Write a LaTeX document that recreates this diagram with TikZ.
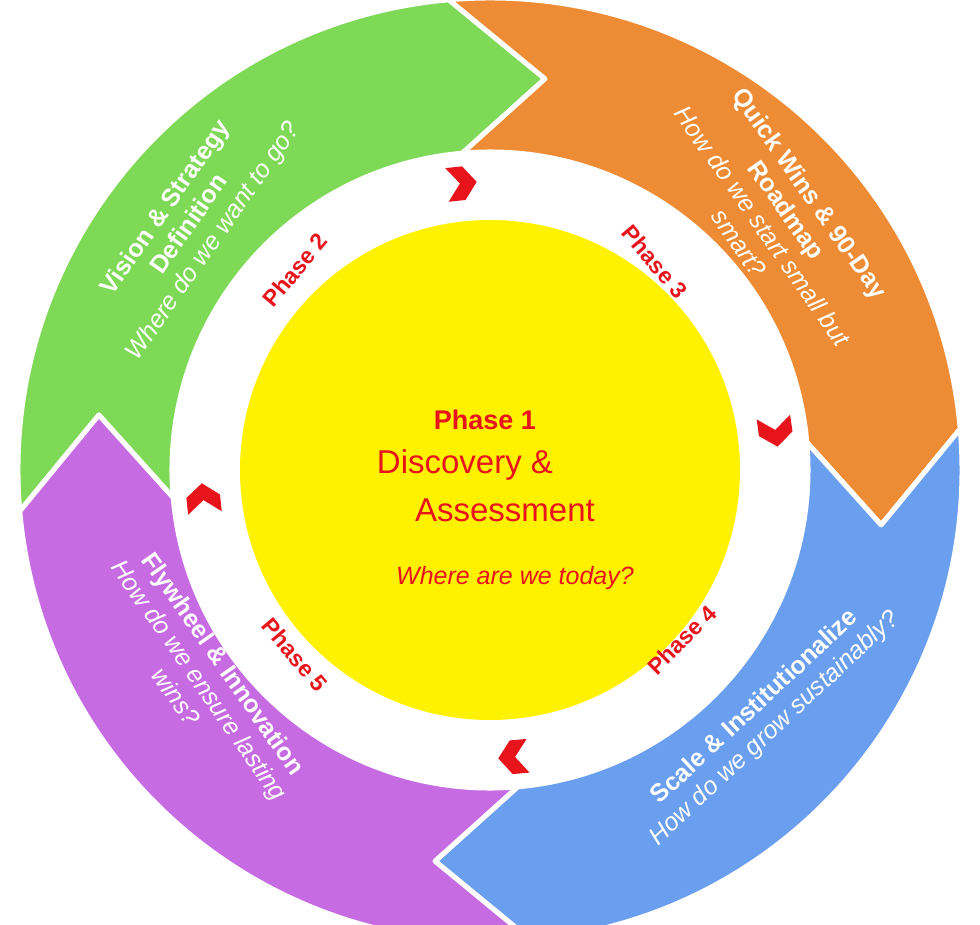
\documentclass[tikz,border=0pt]{standalone}
\usepackage{fontspec}
\setmainfont{Liberation Sans}
\definecolor{segGreen}{HTML}{7ED957}
\definecolor{segOrange}{HTML}{EE8C35}
\definecolor{segBlue}{HTML}{6A9EEE}
\definecolor{segPurple}{HTML}{C66BE2}
\definecolor{phRed}{HTML}{E8141B}
\tikzset{
    title/.style={text=white, align=center, font=\fontsize{25}{29}\selectfont},
    phase/.style={text=phRed, font=\fontsize{23}{27}\selectfont\bfseries},
}
\newcommand{\segment}[3]{%
    \fill[#3, draw=white, line width=5pt, line join=round]
        (#1:472) arc[start angle=#1, end angle=#2, radius=472]
        -- ({#2-13}:395) -- (#2:318)
        arc[start angle=#2, end angle=#1, radius=318]
        -- ({#1-13}:395) -- cycle;}
\newcommand{\chev}[1]{%
    \fill[phRed, shift={(#1:288)}, rotate=#1-90, scale=1.3]
        (-10,13) -- (3,13) -- (13,0) -- (3,-13) -- (-10,-13) -- (0,0) -- cycle;}
\begin{document}
\begin{tikzpicture}[x=1pt, y=1pt]
    \useasboundingbox (-490,-454) rectangle (490,470);
    % outer ring
    \segment{185}{95}{segGreen}
    \segment{95}{5}{segOrange}
    \segment{5}{-85}{segBlue}
    \segment{-85}{-175}{segPurple}
    % centre
    \fill[yellow] (0,0) circle (250);
    \node[text=phRed, font=\fontsize{27}{31}\selectfont\bfseries] (p1) at (-5,50) {Phase 1};
    \node[text=phRed, font=\fontsize{33}{37}\selectfont] (disc) at (-25,5) {Discovery \&};
    \node[text=phRed, font=\fontsize{33}{37}\selectfont] (assess) at (15,-40) {Assessment};
    \node[text=phRed, font=\fontsize{25}{29}\selectfont\itshape] (today) at (25,-108) {Where are we today?};
    % chevrons
    \chev{96}
    \chev{8}
    \chev{-85}
    \chev{186}
    % phase labels
    \node[phase, rotate=50] (ph2) at (-195,200) {Phase 2};
    \node[phase, rotate=-50] (ph3) at (165,208) {Phase 3};
    \node[phase, rotate=45] (ph4) at (192,-170) {Phase 4};
    \node[phase, rotate=-50] (ph5) at (-195,-185) {Phase 5};
    % segment texts
    \node[title, rotate=55] (vision) at (-300,245)
        {\textbf{Vision \& Strategy}\\\textbf{Definition}\\\textit{Where do we want to go?}};
    \node[title, rotate=-55] (quick) at (285,252)
        {\textbf{Quick Wins \& 90-Day}\\\textbf{Roadmap}\\\textit{How do we start small but}\\\textit{smart?}};
    \node[title, rotate=43] (scale) at (275,-248)
        {\textbf{Scale \& Institutionalize}\\\textit{How do we grow sustainably?}};
    \node[title, rotate=-55] (fly) at (-290,-210)
        {\textbf{Flywheel \& Innovation}\\\textit{How do we ensure lasting}\\\textit{wins?}};
\end{tikzpicture}
\end{document}
